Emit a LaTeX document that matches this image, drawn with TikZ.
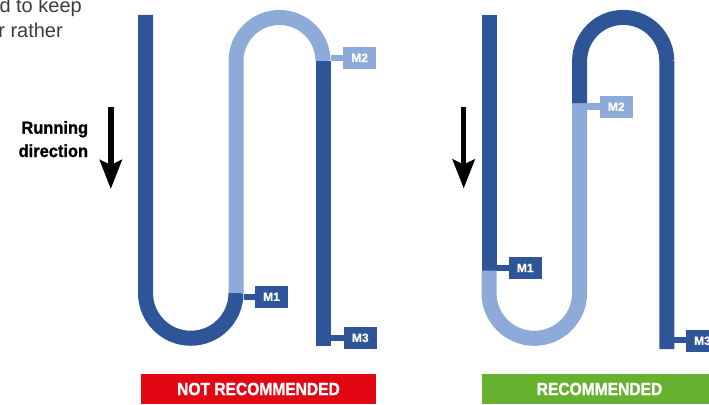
\documentclass[tikz,border=0pt]{standalone}
\usepackage{fontspec}
\setmainfont{Liberation Sans}
\newfontfamily\condbold[FakeStretch=0.88,FakeBold=1.2]{Liberation Sans Bold}
\newfontfamily\semibold[FakeStretch=0.94,FakeBold=1.2]{Liberation Sans Bold}
\newfontfamily\labelbold[FakeBold=0.6]{Liberation Sans Bold}
\usetikzlibrary{arrows.meta}
\definecolor{dblue}{RGB}{46,85,151}
\definecolor{lblue}{RGB}{142,170,216}
\definecolor{nred}{RGB}{227,6,19}
\definecolor{rgreen}{RGB}{102,178,46}
\definecolor{txtgray}{RGB}{60,60,60}
\begin{document}
\begin{tikzpicture}[x=1pt,y=1pt,
  strip/.style={line width=15pt, line cap=butt},
  conn/.style={line width=6.5pt, line cap=butt},
  mbox/.style={minimum width=33pt, minimum height=22pt, inner sep=0pt,
    text=white, font=\labelbold\fontsize{12}{12}\selectfont},
  banner/.style={minimum width=235pt, minimum height=30pt, inner sep=0pt,
    text=white, font=\condbold\fontsize{17.7}{18}\selectfont},
  dirarrow/.style={line width=5.5pt, -{Stealth[length=29pt,width=22pt,inset=5pt]}},
  dirtext/.style={anchor=base east, inner sep=0pt,
    font=\semibold\fontsize{17.5}{18}\selectfont},
  bodytext/.style={anchor=base east, inner sep=0pt, text=txtgray,
    font=\fontsize{20}{20}\selectfont}]
\clip (0,0) rectangle (709,-404);

% ---------- top-left text fragment ----------
\node[bodytext] (t1) at (82,-13) {d to keep};
\node[bodytext] (t2) at (63,-37.3) {r rather};

% ---------- running direction ----------
\node[dirtext] (run1) at (88.3,-133.7) {Running};
\node[dirtext] (run2) at (88.3,-157) {direction};
\coordinate (a1s) at (110.8,-107.3);
\coordinate (a1e) at (110.8,-189);
\draw[dirarrow] (a1s) -- (a1e);
\coordinate (a2s) at (463.7,-107.3);
\coordinate (a2e) at (463.7,-188.5);
\draw[dirarrow] (a2s) -- (a2e);

% ---------- left diagram (not recommended) ----------
\node[mbox, fill=lblue] (m2L) at (359.7,-57.8) {M2};
\node[mbox, fill=dblue] (m1L) at (271.5,-296.8) {M1};
\node[mbox, fill=dblue] (m3L) at (360.3,-337.8) {M3};
\coordinate (c2L) at (330.5,-57.8);
\coordinate (c1L) at (243.5,-296.8);
\coordinate (c3L) at (330.5,-337.8);
\draw[conn, lblue] (c2L) -- (m2L.west);
\draw[conn, dblue] (c1L) -- (m1L.west);
\draw[conn, dblue] (c3L) -- (m3L.west);

\coordinate (LA) at (145.5,-15);
\coordinate (LB) at (145.5,-293);
\coordinate (LE) at (323,-346);
\draw[strip, dblue] (LA) -- (LB) arc[start angle=180, end angle=360, radius=45.25] coordinate (LC);
\draw[strip, lblue] (LC) -- ++(0,232) arc[start angle=180, end angle=0, radius=43.5] coordinate (LD);
\draw[strip, dblue] (LD) -- (LE);

% ---------- right diagram (recommended) ----------
\node[mbox, fill=dblue] (m1R) at (525.3,-268) {M1};
\node[mbox, fill=lblue] (m2R) at (616.3,-106.7) {M2};
\node[mbox, fill=dblue] (m3R) at (702.5,-340.8) {M3};
\coordinate (c1R) at (496.5,-268);
\coordinate (c2R) at (587.1,-106.7);
\coordinate (c3R) at (674.3,-340);
\draw[conn, dblue] (c1R) -- (m1R.west);
\draw[conn, lblue] (c2R) -- (m2R.west);
\draw[conn, dblue] (c3R) -- (c3R -| m3R.west);

\coordinate (RA) at (489,-15);
\coordinate (RB) at (489,-270.7);
\coordinate (RE) at (666.8,-349);
\draw[strip, dblue] (RA) -- (RB);
\draw[strip, lblue] (RB) -- ++(0,-22.3) arc[start angle=180, end angle=360, radius=45.3] -- ++(0,189.7) coordinate (RC);
\draw[strip, dblue] (RC) -- ++(0,42.3) arc[start angle=180, end angle=0, radius=43.6] coordinate (RD);
\draw[strip, dblue] (RD) -- (RE);

% ---------- banners ----------
\node[banner, fill=nred] (nrec) at (258.5,-389) {NOT RECOMMENDED};
\node[banner, fill=rgreen] (rec) at (599.5,-389) {RECOMMENDED};
\end{tikzpicture}
\end{document}
